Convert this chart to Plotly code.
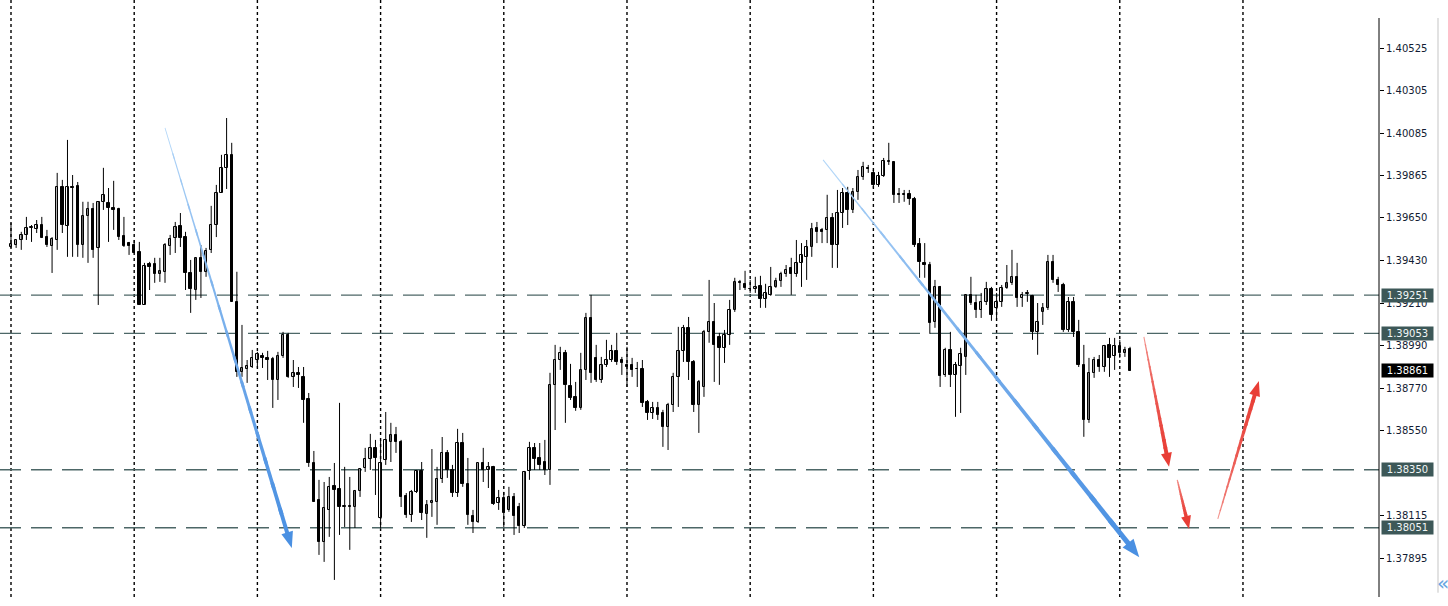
import math
import plotly.graph_objects as go

# ---------------- data ----------------
OPEN = [1.39499, 1.39509, 1.39535, 1.39561, 1.39597, 1.39592, 1.39612, 1.39550, 1.39504, 1.39535,
        1.39809, 1.39607, 1.39809, 1.39814, 1.39509, 1.39659, 1.39695, 1.39494, 1.39732, 1.39726,
        1.39701, 1.39695, 1.39556, 1.39519, 1.39509, 1.39473, 1.39200, 1.39412, 1.39412, 1.39360,
        1.39371, 1.39504, 1.39545, 1.39607, 1.39550, 1.39365, 1.39277, 1.39443, 1.39371, 1.39484,
        1.39612, 1.39778, 1.39907, 1.39974, 1.39216, 1.38855, 1.38870, 1.38880, 1.38916, 1.38937,
        1.38927, 1.38922, 1.38813, 1.38937, 1.39046, 1.38829, 1.38850, 1.38829, 1.38715, 1.38385,
        1.38194, 1.37978, 1.38143, 1.38267, 1.38251, 1.38158, 1.38163, 1.38158, 1.38241, 1.38359,
        1.38406, 1.38463, 1.38102, 1.38401, 1.38494, 1.38530, 1.38494, 1.38215, 1.38117, 1.38236,
        1.38344, 1.38122, 1.38179, 1.38184, 1.38303, 1.38437, 1.38349, 1.38230, 1.38488, 1.38277,
        1.38112, 1.38081, 1.38385, 1.38349, 1.38365, 1.38179, 1.38205, 1.38143, 1.38210, 1.38158,
        1.38060, 1.38344, 1.38463, 1.38411, 1.38390, 1.38349, 1.38788, 1.38916, 1.38953, 1.38783,
        1.38726, 1.38669, 1.38865, 1.39133, 1.38927, 1.38813, 1.38891, 1.38916, 1.38963, 1.38916,
        1.38891, 1.38891, 1.38870, 1.38870, 1.38700, 1.38643, 1.38669, 1.38643, 1.38571, 1.38684,
        1.38829, 1.38963, 1.39082, 1.38906, 1.38684, 1.38777, 1.39061, 1.39112, 1.39035, 1.38979,
        1.39046, 1.39174, 1.39319, 1.39309, 1.39283, 1.39283, 1.39298, 1.39231, 1.39252, 1.39293,
        1.39324, 1.39360, 1.39391, 1.39360, 1.39417, 1.39448, 1.39499, 1.39597, 1.39587, 1.39587,
        1.39648, 1.39509, 1.39674, 1.39778, 1.39690, 1.39783, 1.39860, 1.39907, 1.39881, 1.39819,
        1.39866, 1.39938, 1.39938, 1.39773, 1.39768, 1.39773, 1.39747, 1.39514, 1.39417, 1.39406,
        1.39112, 1.39293, 1.38839, 1.38968, 1.38839, 1.38886, 1.38932, 1.39252, 1.39210, 1.39174,
        1.39216, 1.39283, 1.39185, 1.39216, 1.39288, 1.39314, 1.39345, 1.39236, 1.39257, 1.39247,
        1.39061, 1.39164, 1.39185, 1.39422, 1.39329, 1.39303, 1.39071, 1.39216, 1.39061, 1.38891,
        1.38607, 1.38850, 1.38916, 1.38880, 1.38994, 1.38937, 1.38989, 1.38953, 1.38973]

HIGH = [1.39623, 1.39535, 1.39577, 1.39654, 1.39612, 1.39638, 1.39654, 1.39587, 1.39550, 1.39881,
        1.39845, 1.40051, 1.39870, 1.39834, 1.39732, 1.39732, 1.39726, 1.39732, 1.39907, 1.39803,
        1.39840, 1.39701, 1.39654, 1.39525, 1.39535, 1.39525, 1.39417, 1.39422, 1.39443, 1.39443,
        1.39519, 1.39561, 1.39628, 1.39674, 1.39577, 1.39432, 1.39443, 1.39509, 1.39494, 1.39711,
        1.39819, 1.39974, 1.40164, 1.40036, 1.39371, 1.39097, 1.38916, 1.38968, 1.38958, 1.38953,
        1.38963, 1.38932, 1.38958, 1.39061, 1.39056, 1.38916, 1.38880, 1.38880, 1.38746, 1.38447,
        1.38298, 1.38287, 1.38313, 1.38385, 1.38695, 1.38365, 1.38313, 1.38246, 1.38359, 1.38463,
        1.38535, 1.38504, 1.38504, 1.38648, 1.38592, 1.38571, 1.38504, 1.38230, 1.38246, 1.38349,
        1.38390, 1.38194, 1.38457, 1.38365, 1.38519, 1.38452, 1.38375, 1.38561, 1.38540, 1.38411,
        1.38143, 1.38385, 1.38463, 1.38390, 1.38370, 1.38246, 1.38236, 1.38262, 1.38230, 1.38179,
        1.38344, 1.38494, 1.38488, 1.38488, 1.38504, 1.38850, 1.38994, 1.38984, 1.38968, 1.38896,
        1.38803, 1.38953, 1.39159, 1.39252, 1.38994, 1.38932, 1.39020, 1.38994, 1.39056, 1.38932,
        1.38984, 1.38927, 1.38906, 1.38916, 1.38710, 1.38700, 1.38700, 1.38659, 1.38695, 1.38850,
        1.39087, 1.39097, 1.39138, 1.38916, 1.38813, 1.39071, 1.39329, 1.39210, 1.39056, 1.39071,
        1.39226, 1.39340, 1.39329, 1.39376, 1.39329, 1.39345, 1.39350, 1.39309, 1.39396, 1.39340,
        1.39371, 1.39406, 1.39443, 1.39535, 1.39519, 1.39535, 1.39623, 1.39628, 1.39597, 1.39768,
        1.39674, 1.39793, 1.39803, 1.39809, 1.39803, 1.39896, 1.39938, 1.39922, 1.39896, 1.39886,
        1.39958, 1.40036, 1.39938, 1.39803, 1.39793, 1.39793, 1.39757, 1.39545, 1.39519, 1.39422,
        1.39329, 1.39298, 1.38979, 1.39061, 1.38906, 1.38979, 1.39252, 1.39345, 1.39252, 1.39262,
        1.39319, 1.39293, 1.39262, 1.39303, 1.39406, 1.39484, 1.39417, 1.39267, 1.39277, 1.39252,
        1.39210, 1.39210, 1.39458, 1.39458, 1.39345, 1.39314, 1.39241, 1.39241, 1.39123, 1.38994,
        1.38927, 1.38932, 1.38942, 1.38994, 1.39030, 1.39030, 1.39020, 1.38984, 1.38984]

LOW = [1.39494, 1.39494, 1.39484, 1.39535, 1.39525, 1.39571, 1.39545, 1.39499, 1.39365, 1.39484,
       1.39571, 1.39448, 1.39448, 1.39448, 1.39443, 1.39417, 1.39443, 1.39200, 1.39690, 1.39525,
       1.39587, 1.39535, 1.39499, 1.39458, 1.39468, 1.39200, 1.39200, 1.39277, 1.39314, 1.39319,
       1.39314, 1.39458, 1.39468, 1.39499, 1.39277, 1.39159, 1.39226, 1.39236, 1.39345, 1.39468,
       1.39550, 1.39778, 1.39798, 1.39216, 1.38829, 1.38829, 1.38798, 1.38875, 1.38875, 1.38875,
       1.38813, 1.38669, 1.38710, 1.38927, 1.38824, 1.38777, 1.38772, 1.38592, 1.38365, 1.38184,
       1.37911, 1.37875, 1.38004, 1.37782, 1.38014, 1.38055, 1.37937, 1.38050, 1.38210, 1.38339,
       1.38349, 1.38220, 1.38050, 1.38375, 1.38390, 1.38437, 1.38158, 1.38102, 1.38081, 1.38230,
       1.38091, 1.37999, 1.38107, 1.38066, 1.38282, 1.38308, 1.38210, 1.38210, 1.38262, 1.38066,
       1.38024, 1.38076, 1.38287, 1.38256, 1.38169, 1.38143, 1.38055, 1.38133, 1.38014, 1.38024,
       1.38050, 1.38298, 1.38349, 1.38349, 1.38323, 1.38272, 1.38555, 1.38865, 1.38592, 1.38710,
       1.38654, 1.38659, 1.38813, 1.38798, 1.38803, 1.38798, 1.38880, 1.38906, 1.38891, 1.38839,
       1.38777, 1.38829, 1.38777, 1.38674, 1.38607, 1.38612, 1.38607, 1.38468, 1.38452, 1.38648,
       1.38674, 1.38906, 1.38813, 1.38648, 1.38540, 1.38726, 1.39005, 1.38803, 1.38788, 1.38901,
       1.38994, 1.39164, 1.39277, 1.39277, 1.39262, 1.39262, 1.39185, 1.39185, 1.39247, 1.39288,
       1.39293, 1.39345, 1.39252, 1.39345, 1.39293, 1.39329, 1.39448, 1.39519, 1.39519, 1.39519,
       1.39391, 1.39391, 1.39597, 1.39612, 1.39674, 1.39742, 1.39845, 1.39881, 1.39803, 1.39809,
       1.39860, 1.39922, 1.39726, 1.39726, 1.39732, 1.39716, 1.39499, 1.39340, 1.39340, 1.39051,
       1.39082, 1.38777, 1.38829, 1.38777, 1.38623, 1.38643, 1.38839, 1.39200, 1.39133, 1.39133,
       1.39200, 1.39118, 1.39128, 1.39190, 1.39283, 1.39303, 1.39190, 1.39190, 1.39216, 1.39020,
       1.38943, 1.39097, 1.39174, 1.39314, 1.39267, 1.39061, 1.39061, 1.39035, 1.38880, 1.38520,
       1.38592, 1.38824, 1.38855, 1.38855, 1.38829, 1.38865, 1.38927, 1.38932, 1.38861]

CLOSE = [1.39514, 1.39535, 1.39561, 1.39597, 1.39602, 1.39612, 1.39545, 1.39509, 1.39540, 1.39809,
         1.39612, 1.39809, 1.39805, 1.39509, 1.39659, 1.39695, 1.39484, 1.39732, 1.39768, 1.39701,
         1.39690, 1.39550, 1.39504, 1.39504, 1.39468, 1.39200, 1.39401, 1.39396, 1.39360, 1.39376,
         1.39509, 1.39540, 1.39602, 1.39545, 1.39365, 1.39283, 1.39443, 1.39371, 1.39479, 1.39612,
         1.39778, 1.39907, 1.39974, 1.39216, 1.38855, 1.38875, 1.38886, 1.38927, 1.38947, 1.38927,
         1.38916, 1.38813, 1.38937, 1.39046, 1.38829, 1.38850, 1.38839, 1.38710, 1.38385, 1.38184,
         1.37978, 1.38153, 1.38262, 1.38246, 1.38158, 1.38163, 1.38158, 1.38241, 1.38354, 1.38406,
         1.38463, 1.38411, 1.38385, 1.38504, 1.38530, 1.38494, 1.38210, 1.38117, 1.38236, 1.38344,
         1.38127, 1.38169, 1.38189, 1.38303, 1.38437, 1.38349, 1.38230, 1.38488, 1.38277, 1.38117,
         1.38081, 1.38385, 1.38349, 1.38365, 1.38174, 1.38205, 1.38127, 1.38210, 1.38112, 1.38060,
         1.38339, 1.38463, 1.38406, 1.38375, 1.38349, 1.38788, 1.38916, 1.38953, 1.38788, 1.38720,
         1.38669, 1.38865, 1.39133, 1.38850, 1.38813, 1.38891, 1.38916, 1.38963, 1.38906, 1.38901,
         1.38880, 1.38865, 1.38870, 1.38695, 1.38643, 1.38669, 1.38633, 1.38571, 1.38684, 1.38829,
         1.38963, 1.39082, 1.38906, 1.38684, 1.38803, 1.39061, 1.39112, 1.38994, 1.38979, 1.39046,
         1.39174, 1.39319, 1.39314, 1.39288, 1.39283, 1.39293, 1.39231, 1.39262, 1.39293, 1.39324,
         1.39360, 1.39381, 1.39360, 1.39417, 1.39458, 1.39499, 1.39592, 1.39577, 1.39577, 1.39648,
         1.39509, 1.39674, 1.39778, 1.39690, 1.39783, 1.39860, 1.39912, 1.39902, 1.39819, 1.39866,
         1.39943, 1.39943, 1.39768, 1.39768, 1.39773, 1.39747, 1.39509, 1.39422, 1.39406, 1.39107,
         1.39293, 1.38834, 1.38968, 1.38839, 1.38891, 1.38947, 1.39252, 1.39210, 1.39174, 1.39216,
         1.39283, 1.39148, 1.39216, 1.39288, 1.39314, 1.39345, 1.39236, 1.39252, 1.39262, 1.39061,
         1.39112, 1.39185, 1.39422, 1.39329, 1.39303, 1.39071, 1.39216, 1.39061, 1.38891, 1.38607,
         1.38850, 1.38916, 1.38880, 1.38989, 1.38927, 1.38989, 1.38953, 1.38968, 1.38861]

BAR_INDEX = list(range(len(OPEN)))
SEPARATOR_INDEX = [0, 24, 48, 72, 96, 120, 144, 168, 192, 216, 240]

AXIS_TICKS = [1.40525, 1.40305, 1.40085, 1.39865, 1.39650, 1.39430, 1.39210,
              1.38990, 1.38770, 1.38550, 1.38115, 1.37895]
LEVELS = [1.39251, 1.39053, 1.38350, 1.38051]
CURRENT_PRICE = 1.38861

# hand-drawn arrows: start/end in (bar index, price)
ARROW_X0 = [30.0, 158.2, 220.7, 227.2, 235.1]
ARROW_Y0 = [1.40113, 1.39948, 1.39035, 1.38298, 1.38097]
ARROW_X1 = [54.7, 219.8, 225.6, 229.5, 243.1]
ARROW_Y1 = [1.37947, 1.37899, 1.38365, 1.38045, 1.38808]
ARROW_KIND = ["blue", "blue", "red", "red", "red"]

# ---------------- geometry / styles ----------------
W, H = 1448, 606
ML, MR, MT, MB = 0, 69, 0, 9
X_RANGE = [-2.143, 266.5]
Y_RANGE = [1.376939, 1.407725]
PXX = (W - ML - MR) / (X_RANGE[1] - X_RANGE[0])
PXY = (H - MT - MB) / (Y_RANGE[1] - Y_RANGE[0])

ARROW_STYLE = {
    "blue": dict(c0=(190, 222, 250), c1=(74, 144, 226), gamma=0.7),
    "red": dict(c0=(246, 170, 165), c1=(232, 62, 54), gamma=0.45),
}
ARROW_SIZE = [  # w0, w1, head_len, head_halfwidth (pixels)
    (0.8, 4.0, 15, 6.0),
    (1.0, 5.0, 17, 7.0),
    (1.0, 4.0, 13, 5.5),
    (1.2, 3.5, 12, 5.0),
    (1.0, 4.0, 14, 5.5),
]


def mix(c0, c1, t):
    return "rgb(%d,%d,%d)" % tuple(round(a + (b - a) * t) for a, b in zip(c0, c1))


def to_data(X, Y):
    return X / PXX, -Y / PXY


def path_str(points):
    parts = []
    for k, (X, Y) in enumerate(points):
        x, y = to_data(X, Y)
        parts.append(("M" if k == 0 else "L") + " %.4f,%.7f" % (x, y))
    return " ".join(parts) + " Z"


def arrow_shapes(x0, y0, x1, y1, style, size, n=16):
    c0, c1, g = style["c0"], style["c1"], style["gamma"]
    w0, w1, hl, hw = size
    X0, Y0 = x0 * PXX, -y0 * PXY
    X1, Y1 = x1 * PXX, -y1 * PXY
    dx, dy = X1 - X0, Y1 - Y0
    L = math.hypot(dx, dy)
    ux, uy = dx / L, dy / L
    nx, ny = -uy, ux
    SL = L - hl
    shapes = []
    for k in range(n):
        t0 = k / n
        t1 = min(1.0, (k + 1) / n + 0.015)
        wa = (w0 + (w1 - w0) * t0) / 2
        wb = (w0 + (w1 - w0) * t1) / 2
        pa = (X0 + ux * SL * t0, Y0 + uy * SL * t0)
        pb = (X0 + ux * SL * t1, Y0 + uy * SL * t1)
        pts = [(pa[0] + nx * wa, pa[1] + ny * wa), (pb[0] + nx * wb, pb[1] + ny * wb),
               (pb[0] - nx * wb, pb[1] - ny * wb), (pa[0] - nx * wa, pa[1] - ny * wa)]
        col = mix(c0, c1, ((t0 + t1) / 2) ** g)
        shapes.append(dict(type="path", xref="x", yref="y", path=path_str(pts),
                           fillcolor=col, line=dict(width=0), layer="above"))
    bc = (X0 + ux * (SL - 1), Y0 + uy * (SL - 1))
    pts = [(bc[0] + nx * hw, bc[1] + ny * hw), (X1, Y1), (bc[0] - nx * hw, bc[1] - ny * hw)]
    shapes.append(dict(type="path", xref="x", yref="y", path=path_str(pts),
                       fillcolor=mix(c0, c1, 1.0), line=dict(width=0), layer="above"))
    return shapes


# ---------------- traces ----------------
wx, wy = [], []
for i, h, l in zip(BAR_INDEX, HIGH, LOW):
    wx += [i, i, None]
    wy += [l, h, None]

MIN_BODY = 0.00001
up_x, up_b, up_h, dn_x, dn_b, dn_h = [], [], [], [], [], []
for i, o, c in zip(BAR_INDEX, OPEN, CLOSE):
    hgt = max(abs(c - o), MIN_BODY)
    if c >= o:
        up_x.append(i); up_b.append(min(o, c)); up_h.append(hgt)
    else:
        dn_x.append(i); dn_b.append(min(o, c)); dn_h.append(hgt)

fig = go.Figure()
fig.add_trace(go.Scatter(x=wx, y=wy, mode="lines", line=dict(color="#000000", width=1),
                         hoverinfo="skip", showlegend=False))
fig.add_trace(go.Bar(x=up_x, y=up_h, base=up_b, width=0.48,
                     marker=dict(color="#ffffff", line=dict(color="#000000", width=1)),
                     showlegend=False))
fig.add_trace(go.Bar(x=dn_x, y=dn_h, base=dn_b, width=0.48,
                     marker=dict(color="#000000", line=dict(color="#000000", width=1)),
                     showlegend=False))

# ---------------- shapes ----------------
shapes = []
for s in SEPARATOR_INDEX:
    shapes.append(dict(type="line", xref="x", yref="paper", x0=s, x1=s, y0=0, y1=1,
                       line=dict(color="#000000", width=1.4, dash="3px,3px"), layer="below"))
for lv in LEVELS:
    shapes.append(dict(type="line", xref="paper", yref="y", x0=0, x1=1, y0=lv, y1=lv,
                       line=dict(color="#4d6767", width=1.3, dash="21px,10px"), layer="below"))
# price axis line and window border
shapes.append(dict(type="line", xref="paper", yref="paper", x0=1, x1=1, y0=0, y1=1 - 18 / 597,
                   line=dict(color="#000000", width=1)))
bx = (1438 - ML) / (W - ML - MR)
shapes.append(dict(type="line", xref="paper", yref="paper", x0=bx, x1=bx, y0=0.007, y1=1 - 18 / 597,
                   line=dict(color="#d9d9d9", width=1.5)))
for k in range(len(ARROW_X0)):
    shapes += arrow_shapes(ARROW_X0[k], ARROW_Y0[k], ARROW_X1[k], ARROW_Y1[k],
                           ARROW_STYLE[ARROW_KIND[k]], ARROW_SIZE[k])

# ---------------- annotations (price labels) ----------------
annotations = []
for lv in LEVELS:
    annotations.append(dict(xref="paper", x=1, xanchor="left", xshift=2, yref="y", y=lv,
                            yanchor="middle", text="%.5f" % lv, showarrow=False,
                            bgcolor="#3d5858", borderpad=1, width=49, height=11,
                            font=dict(family="DejaVu Sans", size=10, color="#f2f6f6")))
annotations.append(dict(xref="paper", x=1, xanchor="left", xshift=2, yref="y", y=CURRENT_PRICE,
                        yanchor="middle", text="%.5f" % CURRENT_PRICE, showarrow=False,
                        bgcolor="#000000", borderpad=1, width=49, height=11,
                        font=dict(family="DejaVu Sans", size=10, color="#ffffff")))
annotations.append(dict(xref="paper", yref="paper", x=1435 / (W - MR), y=1 - 583 / 597,
                        xanchor="left", yanchor="middle", text="«", showarrow=False,
                        font=dict(family="DejaVu Sans", size=20, color="#6aa6e0")))

fig.update_layout(
    width=W, height=H,
    margin=dict(l=ML, r=MR, t=MT, b=MB),
    paper_bgcolor="#ffffff", plot_bgcolor="#ffffff",
    barmode="overlay", bargap=0,
    hovermode=False,
    showlegend=False,
    shapes=shapes,
    annotations=annotations,
    xaxis=dict(range=X_RANGE, visible=False, fixedrange=True),
    yaxis=dict(range=Y_RANGE, side="right", tickvals=AXIS_TICKS,
               ticktext=["%.5f" % v for v in AXIS_TICKS],
               ticks="outside", ticklen=4, tickwidth=1, tickcolor="#000000",
               showgrid=False, zeroline=False, showline=False, fixedrange=True,
               tickfont=dict(family="DejaVu Sans", size=10, color="#121c33")),
)

# the page body has a default 8px margin; remove it so the chart sits at the window's corner
fig.write_html("out.html", config={"displayModeBar": False},
               post_script="document.body.style.margin='0';")
